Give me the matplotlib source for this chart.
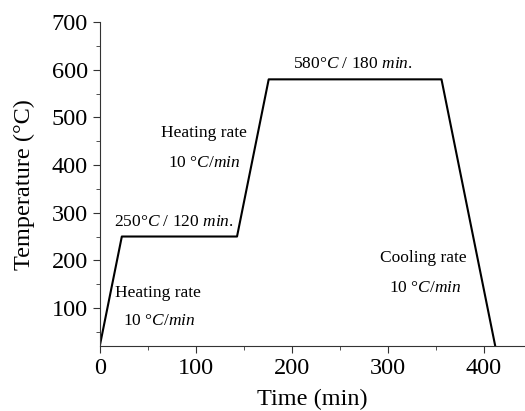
'''
Heat treatment schedule: temperature vs. time.
'''

import matplotlib
matplotlib.use('Agg')
import matplotlib.pyplot as plt
from matplotlib.ticker import MultipleLocator

# schedule
time_min = [0, 23, 143, 176, 356, 412]
temp_C = [20, 250, 250, 580, 580, 20]

# annotations: (x, y, text)
notes = [
    (264, 612, '580°$\\mathit{C}$ / 180 $\\mathit{min.}$'),
    (77, 280, '250°$\\mathit{C}$ / 120 $\\mathit{min.}$'),
    (109, 468, 'Heating rate'),
    (109, 405, '10 °$\\mathit{C/min}$'),
    (61, 131, 'Heating rate'),
    (62, 72, '10 °$\\mathit{C/min}$'),
    (337, 204, 'Cooling rate'),
    (339, 142, '10 °$\\mathit{C/min}$'),
]

plt.rcParams['font.family'] = ['Liberation Serif', 'DejaVu Serif']
plt.rcParams['mathtext.fontset'] = 'custom'
plt.rcParams['mathtext.rm'] = 'Liberation Serif'
plt.rcParams['mathtext.it'] = 'Liberation Serif:italic'

fig = plt.figure(figsize=(5.25, 4.11), dpi=100)
ax = fig.add_axes([0.19, 0.158, 0.81, 0.788])

ax.plot(time_min, temp_C, '-k', lw=1.5)

for x, y, s in notes:
    ax.text(x, y, s, ha='center', va='center', fontsize=12.5)

ax.set_xlim(0, 443)
ax.set_ylim(20, 700)
ax.xaxis.set_major_locator(MultipleLocator(100))
ax.xaxis.set_minor_locator(MultipleLocator(50))
ax.set_yticks([100, 200, 300, 400, 500, 600, 700])
ax.yaxis.set_minor_locator(MultipleLocator(50))
ax.spines['top'].set_visible(False)
ax.spines['right'].set_visible(False)
for sp in ('left', 'bottom'):
    ax.spines[sp].set_color('#333333')
ax.tick_params(which='major', direction='out', length=5, labelsize=17.5, color='#333333')
ax.tick_params(which='minor', direction='out', length=3, color='#333333')
ax.set_xlabel('Time (min)', fontsize=17.5, labelpad=7)
ax.set_ylabel('Temperature (°C)', fontsize=17.5, labelpad=12)

plt.savefig('out.png', dpi=100)
